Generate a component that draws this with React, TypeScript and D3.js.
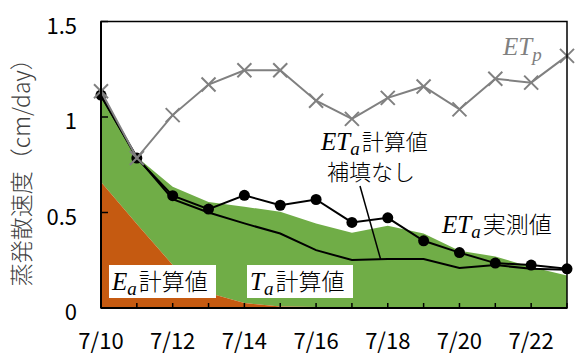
import React from 'react';
import * as d3 from 'd3';

// Daily evapotranspiration, 7/10 – 7/23 (cm/day)
const dates = ['7/10', '7/11', '7/12', '7/13', '7/14', '7/15', '7/16', '7/17', '7/18', '7/19', '7/20', '7/21', '7/22', '7/23'];
const tickLabels = ['7/10', '7/12', '7/14', '7/16', '7/18', '7/20', '7/22'];
const yTicks = [0, 0.5, 1, 1.5];

// potential evapotranspiration ETp
const potentialET = [1.135, 0.785, 1.01, 1.17, 1.245, 1.245, 1.085, 0.99, 1.1, 1.16, 1.04, 1.2, 1.18, 1.32];
// measured ETa
const measuredET = [1.115, 0.785, 0.588, 0.518, 0.59, 0.538, 0.568, 0.448, 0.472, 0.352, 0.29, 0.235, 0.225, 0.205];
// calculated ETa without gap filling
const calcETnoFill = [1.11, 0.79, 0.57, 0.5, 0.443, 0.39, 0.303, 0.251, 0.256, 0.256, 0.21, 0.225, 0.205, 0.2];
// calculated evaporation Ea and transpiration Ta (stacked)
const evapCalc = [0.66, 0.44, 0.225, 0.078, 0.026, 0.008, 0.005, 0.004, 0.003, 0.003, 0.002, 0.002, 0.002, 0.002];
const transpCalc = [0.45, 0.35, 0.41, 0.477, 0.504, 0.496, 0.438, 0.39, 0.427, 0.387, 0.298, 0.268, 0.213, 0.168];

const W = 576;
const H = 356;
const L = 101;
const R = 567;
const T = 21.5;
const B = 308;

const CJK = '"Noto Sans CJK JP", "Noto Sans", sans-serif';
const MATH = '"Liberation Serif", "DejaVu Serif", serif';
const ORANGE = '#C55A11';
const GREEN = '#70AD47';
const GRAY = '#808080';

export default function App() {
  const x = d3.scaleLinear().domain([0, dates.length - 1]).range([L, R]);
  const y = d3.scaleLinear().domain([0, 1.5]).range([B, T]);

  const rows = dates.map((d, i) => ({ i, evap: evapCalc[i], transp: transpCalc[i] }));
  const stacked = d3.stack<any>().keys(['evap', 'transp'])(rows);

  const area = d3
    .area<any>()
    .x((d) => x(d.data.i))
    .y0((d) => y(d[0]))
    .y1((d) => y(d[1]));

  const line = d3
    .line<number>()
    .x((_, i) => x(i))
    .y((d) => y(d));

  const lbl = (sub: string, main: string, rest: string, size = 23) => (
    <>
      <tspan fontFamily={MATH} fontStyle="italic" fontSize={25}>{main}</tspan>
      <tspan fontFamily={MATH} fontStyle="italic" fontSize={19} dy={5}>{sub}</tspan>
      <tspan fontFamily={CJK} fontWeight={300} fontSize={size} dx={2} dy={-5}>{rest}</tspan>
    </>
  );

  // leader from the "no gap filling" note to its line
  const leadIdx = 7.8;
  const leadVal = calcETnoFill[7] + (calcETnoFill[8] - calcETnoFill[7]) * (leadIdx - 7);

  const cross = 7;

  return (
    <div style={{ position: 'fixed', left: 0, top: 0, width: W, height: H, background: '#fff' }}>
      <svg width={W} height={H} viewBox={`0 0 ${W} ${H}`} style={{ display: 'block' }}>
        <rect width={W} height={H} fill="#fff" />

        {/* stacked Ea / Ta areas */}
        <path d={area(stacked[1] as any) || ''} fill={GREEN} />
        <path d={area(stacked[0] as any) || ''} fill={ORANGE} />

        {/* calculated ETa, no gap filling */}
        <path d={line(calcETnoFill) || ''} fill="none" stroke="#000" strokeWidth={2} />

        {/* measured ETa */}
        <path d={line(measuredET) || ''} fill="none" stroke="#000" strokeWidth={2} />
        {measuredET.map((v, i) => (
          <circle key={i} cx={x(i)} cy={y(v)} r={5.5} fill="#000" />
        ))}

        {/* ETp */}
        <path d={line(potentialET) || ''} fill="none" stroke={GRAY} strokeWidth={2} />
        {potentialET.map((v, i) => (
          <g key={i} stroke={GRAY} strokeWidth={2}>
            <line x1={x(i) - cross} y1={y(v) - cross} x2={x(i) + cross} y2={y(v) + cross} />
            <line x1={x(i) - cross} y1={y(v) + cross} x2={x(i) + cross} y2={y(v) - cross} />
          </g>
        ))}

        {/* frame */}
        <rect x={L} y={T} width={R - L} height={B - T} fill="none" stroke="#000" strokeWidth={1.5} />
        <line x1={L} y1={T} x2={L} y2={B} stroke="#000" strokeWidth={2} />
        <line x1={L} y1={B} x2={R} y2={B} stroke="#000" strokeWidth={2} />

        {/* x ticks */}
        {dates.map((d, i) => (
          <line key={d} x1={x(i)} x2={x(i)} y1={B} y2={B - 5} stroke="#000" strokeWidth={1.5} />
        ))}
        {/* y ticks */}
        {yTicks.map((v) => (
          <line key={v} x1={L} x2={L + 7} y1={y(v)} y2={y(v)} stroke="#000" strokeWidth={1.5} />
        ))}

        {/* tick labels */}
        {yTicks.map((v) => (
          <text key={v} x={77} y={y(v) + 2} textAnchor="end" dominantBaseline="central" fontFamily={CJK} fontSize={22} fill="#000">
            {v === 0 ? '0' : d3.format('.1~f')(v)}
          </text>
        ))}
        {tickLabels.map((t) => (
          <text key={t} x={x(dates.indexOf(t))} y={349} textAnchor="middle" fontFamily={CJK} fontSize={22} fill="#000">
            {t}
          </text>
        ))}

        {/* y axis title */}
        <text transform={`translate(30,${(T + B) / 2 + 2}) rotate(-90)`} textAnchor="middle" fontFamily={CJK} fontWeight={300} fontSize={23} fill="#404040">
          蒸発散速度（cm/day）
        </text>

        {/* Ea / Ta labels */}
        <rect x={109} y={265} width={107} height={33} fill="#fff" />
        <text x={112} y={290} fill="#000">{lbl('a', 'E', '計算値')}</text>
        <rect x={247} y={265} width={106} height={33} fill="#fff" />
        <text x={250} y={290} fill="#000">{lbl('a', 'T', '計算値')}</text>

        {/* ETa calculated note (two lines) */}
        <text x={321} y={150} fill="#000">
          {lbl('a', 'ET', '計算値', 22)}
          <tspan x={327} dy={30} fontFamily={CJK} fontWeight={300} fontSize={22}>補填なし</tspan>
        </text>
        <line x1={360} y1={186} x2={x(leadIdx)} y2={y(leadVal)} stroke="#000" strokeWidth={1.5} />

        {/* ETa measured */}
        <text x={442} y={233} fill="#000">{lbl('a', 'ET', '実測値')}</text>

        {/* ETp */}
        <text x={503} y={55} fill={GRAY}>
          <tspan fontFamily={MATH} fontStyle="italic" fontSize={25}>ET</tspan>
          <tspan fontFamily={MATH} fontStyle="italic" fontSize={19} dy={6}>p</tspan>
        </text>
      </svg>
    </div>
  );
}
